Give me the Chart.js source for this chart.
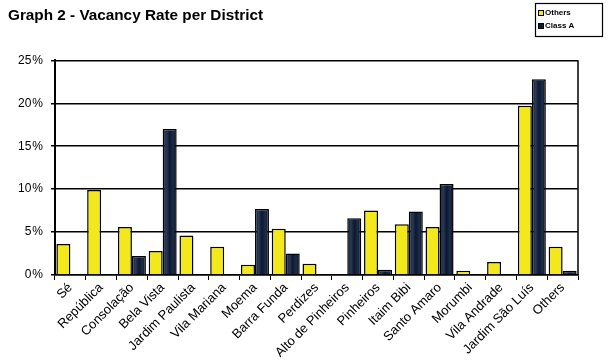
<!DOCTYPE html>
<html lang="en">
<head>
    <meta charset="UTF-8">
    <title>Vacancy Rate per District</title>
    <script src="https://cdn.jsdelivr.net/npm/chart.js"></script>
    <style>
        html, body { margin: 0; padding: 0; background: #fff; }
        #wrap { width: 608px; height: 364px; }
    </style>
</head>
<body>
    <div id="wrap"><canvas id="vacancyChart"></canvas></div>

    <script>
        // districts along the x axis
        const districts = ['Sé', 'República', 'Consolação', 'Bela Vista', 'Jardim Paulista', 'Vila Mariana',
            'Moema', 'Barra Funda', 'Perdizes', 'Alto de Pinheiros', 'Pinheiros', 'Itaim Bibi',
            'Santo Amaro', 'Morumbi', 'Vila Andrade', 'Jardim São Luís', 'Others'];

        // vacancy rate in %
        const othersRate = [3.6, 9.9, 5.6, 2.8, 4.6, 3.3, 1.2, 5.4, 1.3, null, 7.5, 5.9, 5.6, 0.5, 1.5, 19.7, 3.3];
        const classARate = [null, null, 2.2, 17.0, null, null, 7.7, 2.5, null, 6.6, 0.6, 7.4, 10.6, null, null, 22.8, 0.5];

        const yTicks = [0, 5, 10, 15, 20, 25];

        const CAT_PCT = 0.91;
        const FONT = '"Liberation Sans", Arial, sans-serif';

        // dark bars get a slight horizontal shading
        function classAFill(context) {
            const chart = context.chart;
            const xs = chart.scales.x;
            if (!xs || xs.right === undefined || context.dataIndex === undefined) return '#0f1b33';
            const step = (xs.right - xs.left) / districts.length;
            const w = step * CAT_PCT / 2;
            const x0 = xs.getPixelForValue(context.dataIndex);
            if (!isFinite(x0)) return '#0f1b33';
            const g = chart.ctx.createLinearGradient(x0, 0, x0 + w, 0);
            g.addColorStop(0, '#0a1224');
            g.addColorStop(0.25, '#2a3a58');
            g.addColorStop(0.5, '#0c1830');
            g.addColorStop(0.75, '#1d2c48');
            g.addColorStop(1, '#08101f');
            return g;
        }

        // right frame line + boxed legend in the corner
        const frameAndLegend = {
            id: 'frameAndLegend',
            afterDraw(chart) {
                const { ctx, chartArea } = chart;
                ctx.save();
                ctx.strokeStyle = '#000';
                ctx.lineWidth = 1.5;
                ctx.beginPath();
                ctx.moveTo(chartArea.right, chartArea.top);
                ctx.lineTo(chartArea.right, chartArea.bottom);
                ctx.stroke();

                // legend box
                ctx.lineWidth = 1.2;
                ctx.strokeRect(535.5, 3.5, 67, 33);
                ctx.font = 'bold 8px ' + FONT;
                ctx.textBaseline = 'middle';
                chart.data.datasets.forEach((ds, i) => {
                    const y = 13 + i * 13;
                    ctx.fillStyle = i === 0 ? '#f2e81c' : '#0f1b33';
                    ctx.fillRect(538, y - 3, 6, 6);
                    ctx.lineWidth = 1;
                    ctx.strokeRect(538.5, y - 2.5, 5, 5);
                    ctx.fillStyle = '#000';
                    ctx.fillText(ds.label, 545, y);
                });
                ctx.restore();
            }
        };

        const ctx = document.getElementById('vacancyChart').getContext('2d');
        new Chart(ctx, {
            type: 'bar',
            data: {
                labels: districts,
                datasets: [
                    {
                        label: 'Others',
                        data: othersRate,
                        backgroundColor: '#f2e81c',
                        borderColor: '#000',
                        borderWidth: 1.5,
                        borderSkipped: 'bottom'
                    },
                    {
                        label: 'Class A',
                        data: classARate,
                        backgroundColor: classAFill,
                        borderColor: '#000',
                        borderWidth: 1.5,
                        borderSkipped: 'bottom'
                    }
                ]
            },
            options: {
                responsive: true,
                maintainAspectRatio: false,
                animation: false,
                layout: { padding: { left: 8, right: 30, top: 0, bottom: 0 } },
                datasets: { bar: { categoryPercentage: CAT_PCT, barPercentage: 1 } },
                plugins: {
                    legend: { display: false },
                    tooltip: { enabled: false },
                    title: {
                        display: true,
                        text: 'Graph 2 - Vacancy Rate per District',
                        align: 'start',
                        color: '#000',
                        font: { family: FONT, size: 15.3, weight: 'bold' },
                        padding: { top: 7, bottom: 35 }
                    }
                },
                scales: {
                    x: {
                        grid: { offset: true, drawOnChartArea: false, color: '#000', lineWidth: 1, tickLength: 5 },
                        border: { color: '#000', width: 1.5 },
                        ticks: {
                            color: '#000',
                            minRotation: 45,
                            maxRotation: 45,
                            autoSkip: false,
                            padding: 0,
                            font: { family: FONT, size: 13 }
                        },
                        afterFit(scale) { scale.height = 89; }
                    },
                    y: {
                        min: 0,
                        max: 25,
                        afterBuildTicks(scale) { scale.ticks = yTicks.map(v => ({ value: v })); },
                        grid: { color: '#000', lineWidth: 1.5, tickLength: 4 },
                        border: { color: '#000', width: 2 },
                        ticks: {
                            color: '#000',
                            padding: 8,
                            font: { family: FONT, size: 12 },
                            callback: v => v + '\u200A%'
                        },
                        afterFit(scale) { scale.width = 47; }
                    }
                }
            },
            plugins: [frameAndLegend]
        });
    </script>
</body>
</html>
